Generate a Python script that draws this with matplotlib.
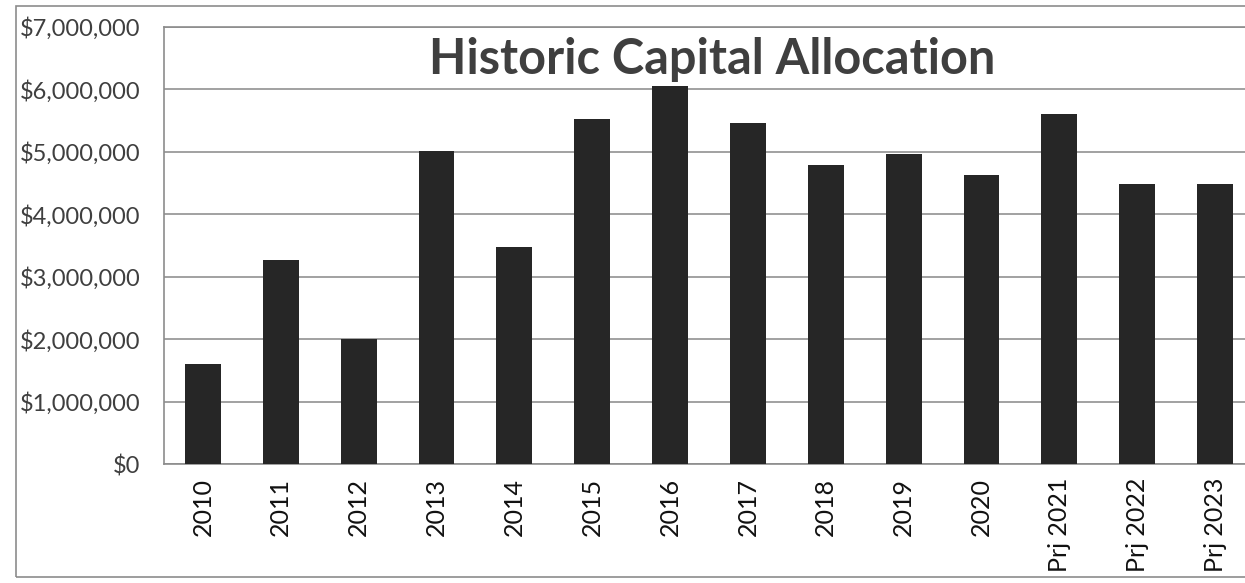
import matplotlib
matplotlib.use("Agg")
import matplotlib.pyplot as plt
from matplotlib.patches import Rectangle
from matplotlib.ticker import FuncFormatter

# capital allocation by year (dollars)
years = ["2010", "2011", "2012", "2013", "2014", "2015", "2016",
         "2017", "2018", "2019", "2020", "Prj 2021", "Prj 2022", "Prj 2023"]
allocation = [1_600_000, 3_270_000, 2_000_000, 5_020_000, 3_470_000, 5_520_000,
              6_050_000, 5_460_000, 4_790_000, 4_960_000, 4_630_000, 5_610_000,
              4_490_000, 4_490_000]

plt.rcParams["font.family"] = ["Lato", "DejaVu Sans"]
text_color = "#3f3f3f"

fig = plt.figure(figsize=(12.45, 5.83), dpi=100)
fig.patch.set_facecolor("white")

# outer chart-area frame
fig.patches.append(Rectangle((16 / 1245, 6 / 583), 1.0, 571 / 583,
                             transform=fig.transFigure, fill=False,
                             edgecolor="#8c8c8c", linewidth=1.2))

ax = fig.add_axes([164 / 1245, 1 - 464 / 583, 1090 / 1245, 437 / 583])
ax.bar(range(len(years)), allocation, width=0.46, color="#262626", zorder=3)

ax.set_xlim(-0.5, len(years) - 0.5)
ax.set_ylim(0, 7_000_000)
ax.set_yticks(range(0, 7_000_001, 1_000_000))
ax.yaxis.set_major_formatter(FuncFormatter(lambda v, _: f"${v:,.0f}"))
ax.set_xticks(range(len(years)))
ax.set_xticklabels(years, rotation=90)

ax.grid(axis="y", color="#9a9a9a", linewidth=1.3, zorder=0)
for side in ax.spines.values():
    side.set_color("#8c8c8c")
    side.set_linewidth(1.2)

ax.tick_params(axis="y", length=0, pad=17, labelsize=17, labelcolor=text_color)
ax.tick_params(axis="x", length=0, pad=10, labelsize=18, labelcolor="#111111")

fig.text(712 / 1245, 1 - 60 / 583, "Historic Capital Allocation",
         ha="center", va="center", fontsize=35, fontweight="bold",
         color=text_color)

fig.savefig("out.png", dpi=100, facecolor="white")
